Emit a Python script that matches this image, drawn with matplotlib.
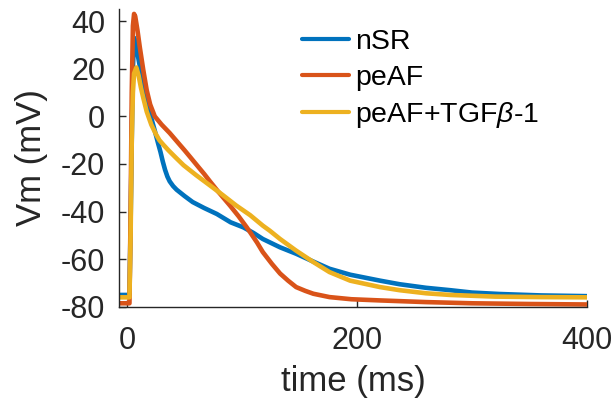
import numpy as np
import matplotlib
matplotlib.use('Agg')
import matplotlib.pyplot as plt

# --- Dati (tempo in ms, Vm in mV) ---
t_nsr = [-8, 2, 3, 4, 5, 6, 8, 11, 14, 17, 20, 24, 27, 29, 31, 33, 35, 37, 40, 43, 50, 57,
         67, 78, 90, 101, 110, 118, 133, 147, 162, 176, 194, 220, 237, 260, 281, 300, 324, 360, 400]
v_nsr = [-75, -75, -45, -10, 20, 33, 29, 21, 12, 5, 1, -6, -11.5, -15, -19, -22.5, -25.3, -27.3, -29.3, -30.8, -33.5, -36,
         -38.5, -41, -44.5, -46.6, -49, -51.5, -55, -57.7, -61, -64, -66.5, -69, -70.5, -72, -73, -74, -74.6, -75.2, -75.5]

t_peaf = [-8, 2, 3, 4, 5, 6, 7, 9, 11, 14, 17, 20, 24, 30, 37, 45, 50, 55, 62, 67, 72, 79,
          89.5, 97, 104, 107, 113, 118, 126, 133, 140, 147, 155, 162, 176, 195, 220, 260, 300, 350, 400]
v_peaf = [-78.5, -78.5, -40, 10, 38, 43, 42, 36, 29, 19.5, 11, 5, 0, -3.5, -7, -11.5, -14.3, -17.2, -21.3, -24.2, -27.3, -31.5,
          -37.5, -42, -46.6, -48.7, -53, -57, -62, -66, -69, -71.7, -73.3, -74.5, -75.9, -76.8, -77.3, -78, -78.5, -78.8, -79]

t_tgf = [-8, 2, 3, 4, 5, 6, 8, 10, 12, 14, 17, 21, 25, 28, 31.6, 36, 42, 49, 60, 72, 83, 95,
         107, 118, 124, 133, 147, 162, 176, 194, 220, 237, 260, 281, 320, 360, 400]
v_tgf = [-76, -76, -50, -10, 10, 18, 20.5, 17, 12, 7.8, 2, -3.5, -7.5, -10, -12, -14.3, -17.2, -20.5, -24.7, -29, -33, -37.5,
         -41.5, -45.9, -48, -51.5, -56.4, -61.2, -65.4, -69, -71.7, -73, -74.3, -75, -75.7, -75.9, -76]

labels = ['nSR', 'peAF', 'peAF+TGF$\\beta$-1']
colori = ['#0072BD', '#D95319', '#EDB120']

x_ticks = [0, 200, 400]
y_ticks = [-80, -60, -40, -20, 0, 20, 40]

plt.rcParams['font.family'] = ['Liberation Sans', 'DejaVu Sans']
plt.rcParams['mathtext.fontset'] = 'custom'
plt.rcParams['mathtext.it'] = 'Liberation Sans:italic'
plt.rcParams['mathtext.rm'] = 'Liberation Sans'
plt.rcParams['axes.unicode_minus'] = False

grigio = '#262626'

fig = plt.figure(figsize=(6.14, 3.98), dpi=100)
ax = fig.add_axes([0.194, 0.229, 0.762, 0.748])

serie = [(t_nsr, v_nsr), (t_peaf, v_peaf), (t_tgf, v_tgf)]
for (t, v), c, lab in zip(serie, colori, labels):
    ax.plot(t, v, color=c, lw=3.3, label=lab, solid_joinstyle='round', solid_capstyle='round')

ax.set_xlim(-7, 400)
ax.set_ylim(-80, 45)
ax.set_xticks(x_ticks)
ax.set_yticks(y_ticks)

ax.spines['top'].set_visible(False)
ax.spines['right'].set_visible(False)
for s in ['left', 'bottom']:
    ax.spines[s].set_color(grigio)
    ax.spines[s].set_linewidth(1.0)
ax.tick_params(direction='in', length=5, width=1, colors=grigio, labelsize=22)
ax.tick_params(axis='x', pad=14)
ax.tick_params(axis='y', pad=10)
for lab in ax.get_xticklabels() + ax.get_yticklabels():
    lab.set_color(grigio)

ax.set_xlabel('time (ms)', fontsize=25, color=grigio, labelpad=6)
ax.set_ylabel('Vm (mV)', fontsize=25, color=grigio, labelpad=9)

leg = ax.legend(loc='upper left', bbox_to_anchor=(0.355, 0.99), frameon=False, fontsize=20.5,
                handlelength=1.65, handletextpad=0.2, labelspacing=0.33, borderaxespad=0.2)
for h in leg.get_lines():
    h.set_linewidth(3)

fig.savefig('out.png', dpi=100)
